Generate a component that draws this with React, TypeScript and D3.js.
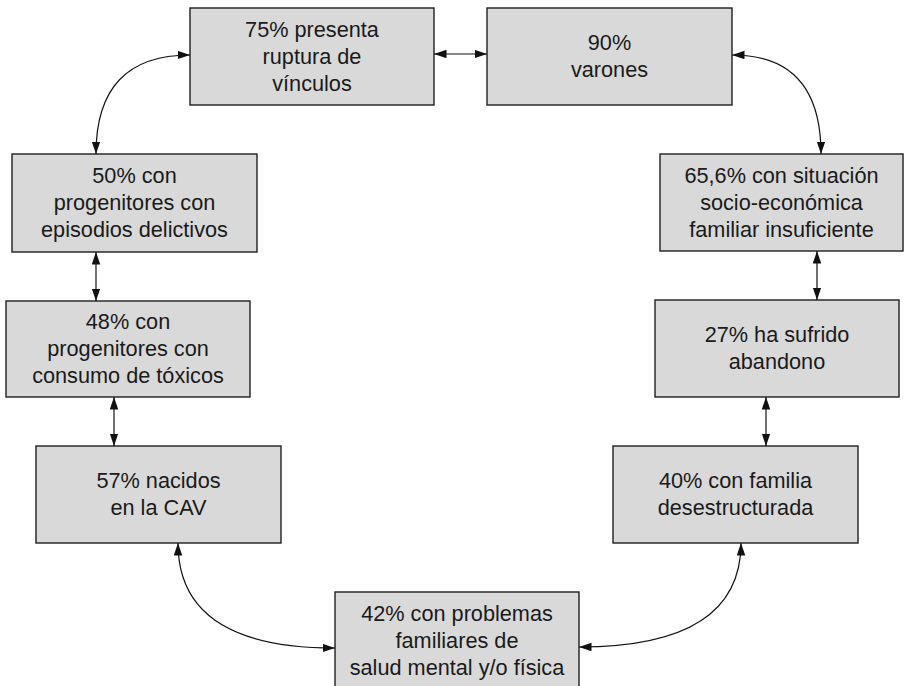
import React from "react";
import * as d3 from "d3";

const labels: string[][] = [
  ["75% presenta", "ruptura de", "vínculos"],
  ["90%", "varones"],
  ["50% con", "progenitores con", "episodios delictivos"],
  ["65,6% con situación", "socio-económica", "familiar insuficiente"],
  ["48% con", "progenitores con", "consumo de tóxicos"],
  ["27% ha sufrido", "abandono"],
  ["57% nacidos", "en la CAV"],
  ["40% con familia", "desestructurada"],
  ["42% con problemas", "familiares de", "salud mental y/o física"],
];

// layout: [x, y, w, h] for each box
const boxX = [190, 487, 12, 660, 6, 655, 36, 613, 335];
const boxY = [8, 8, 154, 154, 301, 300, 446, 446, 592];
const boxW = [244, 245, 245, 243, 244, 244, 245, 245, 244];
const boxH = [97, 97, 98, 97, 96, 97, 97, 97, 97];

type Link = { a: [number, number]; b: [number, number]; c?: [number, number] };

const links: Link[] = [
  { a: [434, 54], b: [487, 54] },
  { a: [190, 55], c: [96, 55], b: [96, 154] },
  { a: [732, 55], c: [821, 55], b: [821, 154] },
  { a: [96, 252], b: [96, 301] },
  { a: [114, 397], b: [114, 446] },
  { a: [817, 251], b: [817, 300] },
  { a: [766, 397], b: [766, 446] },
  { a: [178, 543], c: [178, 648], b: [335, 648] },
  { a: [579, 647], c: [741, 647], b: [741, 543] },
];

export default function App() {
  const W = 904;
  const H = 686;
  const lineH = 27;
  const paths = links.map((l) => {
    const p = d3.path();
    p.moveTo(l.a[0], l.a[1]);
    if (l.c) p.quadraticCurveTo(l.c[0], l.c[1], l.b[0], l.b[1]);
    else p.lineTo(l.b[0], l.b[1]);
    return p.toString();
  });
  return (
    <div style={{ position: "fixed", left: 0, top: 0, width: W, height: H, background: "#fff" }}>
      <svg width={W} height={H} viewBox={`0 0 ${W} ${H}`} style={{ display: "block" }}>
        <defs>
          <marker
            id="ah"
            markerUnits="userSpaceOnUse"
            markerWidth={13}
            markerHeight={9}
            refX={12.5}
            refY={4.25}
            orient="auto-start-reverse"
          >
            <path d="M0,0 L12.5,4.25 L0,8.5 Z" fill="#111" />
          </marker>
        </defs>
        {labels.map((lines, i) => {
          const x = boxX[i], y = boxY[i], w = boxW[i], h = boxH[i];
          const cx = x + w / 2;
          const cy = y + h / 2;
          const first = cy - ((lines.length - 1) / 2) * lineH + 7;
          return (
            <g key={i}>
              <rect x={x} y={y} width={w} height={h} fill="#d9d9d9" stroke="#1e1e1e" strokeWidth={1.4} />
              {lines.map((t, j) => (
                <text
                  key={j}
                  x={cx}
                  y={first + j * lineH}
                  textAnchor="middle"
                  fontFamily="'Liberation Sans', Arial, Helvetica, sans-serif"
                  fontSize={21.7}
                  fill="#1a1a1a"
                >
                  {t}
                </text>
              ))}
            </g>
          );
        })}
        {paths.map((d, i) => (
          <path
            key={i}
            d={d}
            fill="none"
            stroke="#111"
            strokeWidth={1.2}
            markerStart="url(#ah)"
            markerEnd="url(#ah)"
          />
        ))}
      </svg>
    </div>
  );
}
